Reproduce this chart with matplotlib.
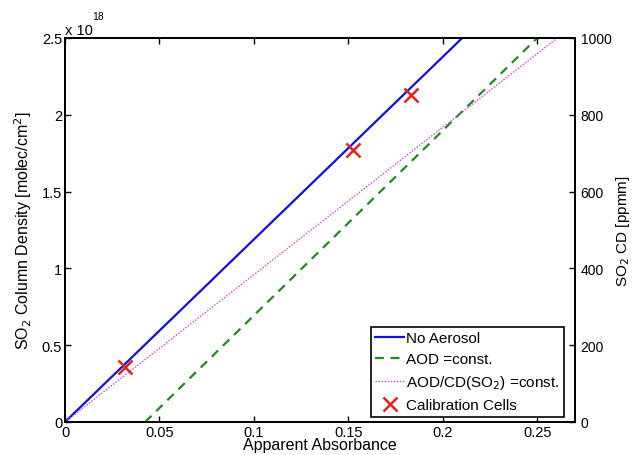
import matplotlib
matplotlib.use("Agg")
import matplotlib.pyplot as plt
import numpy as np

plt.rcParams['font.family'] = ['Liberation Sans', 'DejaVu Sans']

# Data (x: apparent absorbance, y: SO2 column density in units of 1e18 molec/cm^2)
no_aerosol_x = [0.0, 0.2103]
no_aerosol_y = [0.0, 2.5]
aod_const_x = [0.0424, 0.2500]
aod_const_y = [0.0, 2.5]
aod_ratio_x = [0.0, 0.2606]
aod_ratio_y = [0.0, 2.5]
calib_x = [0.0318, 0.1524, 0.1833]
calib_y = [0.358, 1.773, 2.129]

x_ticks = [0, 0.05, 0.1, 0.15, 0.2, 0.25]
x_tick_labels = ["0", "0.05", "0.1", "0.15", "0.2", "0.25"]
y_ticks = [0, 0.5, 1, 1.5, 2, 2.5]
y_tick_labels = ["0", "0.5", "1", "1.5", "2", "2.5"]
y2_ticks = [0, 200, 400, 600, 800, 1000]

fig = plt.figure(figsize=(6.37, 4.56), dpi=100)
ax = fig.add_axes([65/637, 33/456, 510/637, 384/456])

ax.plot(no_aerosol_x, no_aerosol_y, color='#1010e0', lw=1.6, label='No Aerosol')
ax.plot(aod_const_x, aod_const_y, color='#1f8a1f', lw=1.6, ls=(0, (4, 3)), label='AOD =const.')
ax.plot(aod_ratio_x, aod_ratio_y, color='#e040e0', lw=1.0, ls=(0, (1, 1.2)), label='AOD/CD(SO$_2$) =const.')
ax.plot(calib_x, calib_y, ls='none', marker='x', color='#e82020', ms=10, mew=1.8, label='Calibration Cells')

ax.set_xlim(0, 0.27)
ax.set_ylim(0, 2.5)
ax.set_xticks(x_ticks)
ax.set_xticklabels(x_tick_labels)
ax.set_yticks(y_ticks)
ax.set_yticklabels(y_tick_labels)
ax.tick_params(direction='in', top=True, right=False, labelsize=10.5, length=4, width=1, pad=2)
for s in ax.spines.values():
    s.set_linewidth(1.3)

ax.set_xlabel('Apparent Absorbance', fontsize=11.5, labelpad=-1)
ax.set_ylabel('SO$_2$ Column Density [molec/cm$^2$]', fontsize=11.5, labelpad=6)

ax.text(0.0, 1.003, 'x 10', transform=ax.transAxes, fontsize=10.5, ha='left', va='bottom')
ax.text(0.054, 1.045, '18', transform=ax.transAxes, fontsize=7.5, ha='left', va='bottom')

ax2 = ax.twinx()
ax2.set_ylim(0, 1000)
ax2.set_yticks(y2_ticks)
ax2.tick_params(direction='in', labelsize=10, length=4, width=1, pad=4)
ax2.set_ylabel('SO$_2$ CD [ppmm]', fontsize=11, labelpad=2)
for s in ax2.spines.values():
    s.set_linewidth(1.3)

leg = ax.legend(loc='lower right', bbox_to_anchor=(0.985, 0.006), fontsize=11,
                handlelength=1.9, handletextpad=0.15, borderpad=0.3, labelspacing=0.45,
                borderaxespad=0.2, fancybox=False, framealpha=1, edgecolor='black')
leg.get_frame().set_linewidth(1.2)

fig.savefig('out.png', dpi=100)
